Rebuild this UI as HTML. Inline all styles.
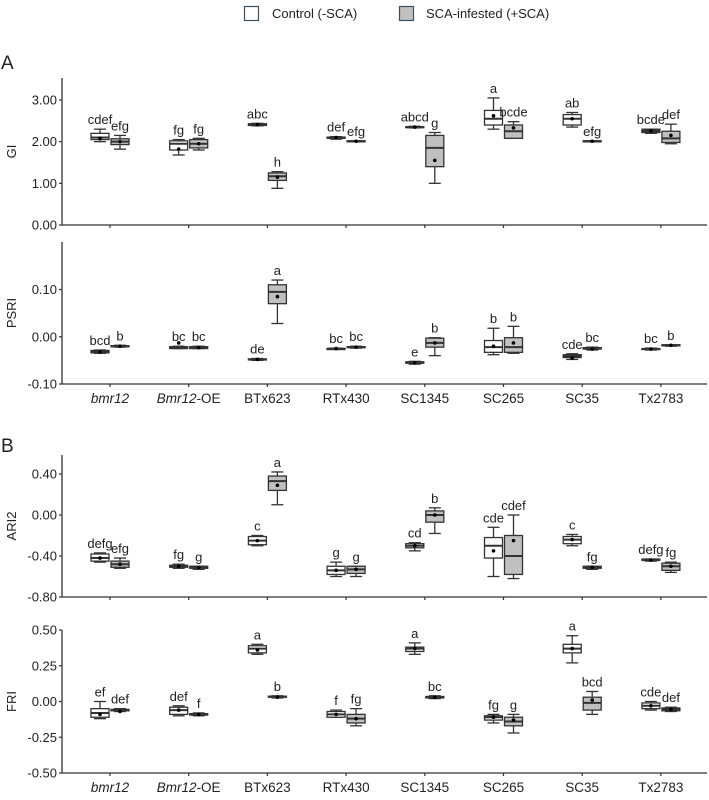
<!DOCTYPE html>
<html><head><meta charset="utf-8">
<style>
body{margin:0;background:#fff;}
svg text{font-family:"Liberation Sans",sans-serif;fill:#222;}
</style></head>
<body>
<svg id="chart" width="709" height="795" viewBox="0 0 709 795" xmlns="http://www.w3.org/2000/svg">
<g>
<rect x="244.5" y="6.5" width="14" height="14" fill="#fff" stroke="#3d4f60" stroke-width="1.2"/>
<text x="272" y="18" font-size="13">Control (-SCA)</text>
<rect x="399.5" y="6.5" width="14" height="14" fill="#c0c0c0" stroke="#3d4f60" stroke-width="1.2"/>
<text x="426" y="18" font-size="13">SCA-infested (+SCA)</text>
</g>
<text x="1" y="69" font-size="19">A</text>
<text x="1" y="452" font-size="19">B</text>
</svg>
<script>
const categories=["bmr12","Bmr12-OE","BTx623","RTx430","SC1345","SC265","SC35","Tx2783"];
// each box: [lowWhisker,q1,median,q3,highWhisker,mean]
const giControl=[[2.0,2.05,2.1,2.2,2.3,2.08],[1.68,1.8,1.95,2.02,2.05,1.82],[2.38,2.39,2.41,2.43,2.44,2.41],[2.06,2.08,2.1,2.11,2.12,2.1],[2.33,2.34,2.35,2.36,2.37,2.35],[2.3,2.4,2.55,2.75,3.05,2.62],[2.35,2.4,2.55,2.65,2.7,2.55],[2.2,2.22,2.26,2.3,2.3,2.26]];
const giSCA=[[1.82,1.93,2.0,2.07,2.15,2.0],[1.8,1.85,1.95,2.05,2.08,1.95],[0.88,1.07,1.17,1.25,1.28,1.15],[2.0,2.0,2.01,2.02,2.02,2.01],[1.0,1.4,1.85,2.15,2.22,1.55],[2.08,2.08,2.25,2.4,2.48,2.33],[2.0,2.0,2.01,2.02,2.02,2.01],[1.95,1.98,2.08,2.25,2.42,2.15]];
const giControlLetters=["cdef","fg","abc","def","abcd","a","ab","bcde"];
const giSCALetters=["efg","fg","h","efg","g","bcde","efg","def"];
const psriControl=[[-0.035,-0.034,-0.032,-0.029,-0.028,-0.032],[-0.025,-0.025,-0.023,-0.021,-0.02,-0.013],[-0.05,-0.049,-0.048,-0.047,-0.046,-0.048],[-0.026,-0.026,-0.025,-0.025,-0.024,-0.025],[-0.058,-0.056,-0.055,-0.053,-0.052,-0.055],[-0.038,-0.033,-0.022,-0.008,0.018,-0.02],[-0.048,-0.044,-0.041,-0.038,-0.036,-0.045],[-0.028,-0.027,-0.026,-0.025,-0.024,-0.026]];
const psriSCA=[[-0.022,-0.021,-0.02,-0.019,-0.018,-0.02],[-0.025,-0.025,-0.023,-0.021,-0.02,-0.023],[0.028,0.07,0.095,0.11,0.12,0.085],[-0.024,-0.023,-0.022,-0.021,-0.02,-0.022],[-0.04,-0.022,-0.013,-0.003,-0.002,-0.013],[-0.035,-0.033,-0.022,-0.002,0.022,-0.013],[-0.028,-0.026,-0.025,-0.023,-0.022,-0.026],[-0.02,-0.019,-0.018,-0.017,-0.017,-0.018]];
const psriControlLetters=["bcd","bc","de","bc","e","b","cde","bc"];
const psriSCALetters=["b","bc","a","bc","b","b","bc","b"];
const ariControl=[[-0.46,-0.45,-0.42,-0.38,-0.37,-0.42],[-0.52,-0.51,-0.5,-0.49,-0.48,-0.5],[-0.3,-0.29,-0.25,-0.21,-0.2,-0.25],[-0.6,-0.58,-0.54,-0.5,-0.46,-0.54],[-0.35,-0.32,-0.3,-0.28,-0.27,-0.3],[-0.6,-0.42,-0.3,-0.22,-0.12,-0.35],[-0.3,-0.28,-0.24,-0.21,-0.19,-0.24],[-0.45,-0.44,-0.44,-0.43,-0.43,-0.44]];
const ariSCA=[[-0.52,-0.51,-0.48,-0.45,-0.42,-0.48],[-0.53,-0.52,-0.51,-0.5,-0.5,-0.51],[0.1,0.24,0.33,0.38,0.42,0.29],[-0.6,-0.57,-0.53,-0.5,-0.5,-0.53],[-0.18,-0.07,0.0,0.04,0.07,0.0],[-0.62,-0.58,-0.4,-0.2,0.0,-0.25],[-0.53,-0.52,-0.51,-0.5,-0.5,-0.51],[-0.56,-0.54,-0.5,-0.47,-0.46,-0.5]];
const ariControlLetters=["defg","fg","c","g","cd","cde","c","defg"];
const ariSCALetters=["efg","g","a","g","b","cdef","fg","fg"];
const friControl=[[-0.12,-0.11,-0.08,-0.05,0.0,-0.09],[-0.1,-0.09,-0.06,-0.04,-0.03,-0.06],[0.33,0.34,0.37,0.39,0.4,0.36],[-0.11,-0.11,-0.09,-0.07,-0.06,-0.09],[0.33,0.35,0.37,0.38,0.41,0.37],[-0.15,-0.13,-0.11,-0.1,-0.09,-0.11],[0.27,0.34,0.37,0.4,0.46,0.37],[-0.06,-0.05,-0.03,-0.01,0.0,-0.03]];
const friSCA=[[-0.07,-0.065,-0.06,-0.055,-0.05,-0.07],[-0.1,-0.095,-0.09,-0.085,-0.08,-0.09],[0.025,0.03,0.033,0.037,0.04,0.03],[-0.17,-0.15,-0.12,-0.09,-0.05,-0.12],[0.02,0.025,0.03,0.035,0.04,0.03],[-0.22,-0.17,-0.14,-0.11,-0.09,-0.13],[-0.09,-0.06,-0.01,0.03,0.07,0.01],[-0.07,-0.065,-0.055,-0.045,-0.04,-0.055]];
const friControlLetters=["ef","def","a","f","a","fg","a","cde"];
const friSCALetters=["def","f","b","fg","bc","g","bcd","def"];
const giTicks=[0,1,2,3], psriTicks=[-0.1,0,0.1], ariTicks=[-0.8,-0.4,0,0.4], friTicks=[-0.5,-0.25,0,0.25,0.5];

const NS="http://www.w3.org/2000/svg";
const svg=document.getElementById('chart');
function mk(tag,attrs,parent){const e=document.createElementNS(NS,tag);for(const k in attrs)e.setAttribute(k,attrs[k]);(parent||svg).appendChild(e);return e;}
const x0=62,x1=707,cat0=110,catStep=78.7;
function xScale(i){return cat0+i*catStep;}

function panel(name,title,top,vTop,vBot,yTop,yBot,ticks,fmt,ctrl,sca,cl,sl,showX,xLabelY){
  const g=mk('g',{});
  
  
  const y=v=>yBot-(v-vBot)/(vTop-vBot)*(yBot-yTop);
  const ax=mk('path',{d:`M${x0} ${top}V${yBot}H${x1}`,fill:'none',stroke:'#333','stroke-width':1.3},g);
  
  
  ticks.forEach(t=>{
    const yy=y(t);
    mk('line',{x1:x0-3,x2:x0,y1:yy,y2:yy,stroke:'#333','stroke-width':1.2},g);
    const tx=mk('text',{x:x0-5,y:yy+4.5,'font-size':13,'text-anchor':'end'},g);
    
    
    tx.textContent=fmt(t);
  });
  const yt=mk('text',{x:0,y:0,'font-size':13,'text-anchor':'middle',transform:`translate(16 ${(top+yBot)/2}) rotate(-90)`},g);
  
  
  yt.textContent=title;
  categories.forEach((c,i)=>{
    const cx=xScale(i);
    mk('line',{x1:cx,x2:cx,y1:yBot,y2:yBot+3,stroke:'#333','stroke-width':1.2},g);
    [[ctrl[i],-10,'#ffffff',cl[i],'control'],[sca[i],10,'#c0c0c0',sl[i],'sca']].forEach(([b,off,fill,lt,grp])=>{
      const bx=cx+off, w=18;
      const bg=mk('g',{},g);
      
      
      const st={stroke:'#333','stroke-width':1.3};
      mk('line',Object.assign({x1:bx,x2:bx,y1:y(b[0]),y2:y(b[4])},st),bg);
      mk('line',Object.assign({x1:bx-6,x2:bx+6,y1:y(b[0]),y2:y(b[0])},st),bg);
      mk('line',Object.assign({x1:bx-6,x2:bx+6,y1:y(b[4]),y2:y(b[4])},st),bg);
      const h=y(b[1])-y(b[3]);
      mk('rect',Object.assign({x:bx-w/2,y:y(b[3]),width:w,height:Math.max(1,h),fill:h<4?'#333':fill},st),bg);
      mk('line',Object.assign({x1:bx-w/2,x2:bx+w/2,y1:y(b[2]),y2:y(b[2])},st,{'stroke-width':2}),bg);
      mk('circle',{cx:bx,cy:y(b[5]),r:1.8,fill:'#000'},bg);
      const lab=mk('text',{x:bx,y:y(b[4])-5,'font-size':13,'text-anchor':'middle'},g);
      
      
      lab.textContent=lt;
    });
    if(showX){
      const t=mk('text',{x:cx,y:xLabelY,'font-size':13.5,'text-anchor':'middle'},g);
      
      
      if(i===0){t.setAttribute('font-style','italic');t.textContent=c;}
      else if(i===1){const a=mk('tspan',{'font-style':'italic'},t);a.textContent='Bmr12';const b2=mk('tspan',{},t);b2.textContent='-OE';}
      else t.textContent=c;
    }
  });
}
const f2=v=>v.toFixed(2);
panel('gi','GI',78,3,0,100,225,giTicks,f2,giControl,giSCA,giControlLetters,giSCALetters,false,0);
panel('psri','PSRI',242,0.1,-0.1,289.5,384,psriTicks,f2,psriControl,psriSCA,psriControlLetters,psriSCALetters,true,403);
panel('ari2','ARI2',455,0.4,-0.8,474,597,ariTicks,f2,ariControl,ariSCA,ariControlLetters,ariSCALetters,false,0);
panel('fri','FRI',630,0.5,-0.5,630,773,friTicks,f2,friControl,friSCA,friControlLetters,friSCALetters,true,792);
</script>
</body></html>
